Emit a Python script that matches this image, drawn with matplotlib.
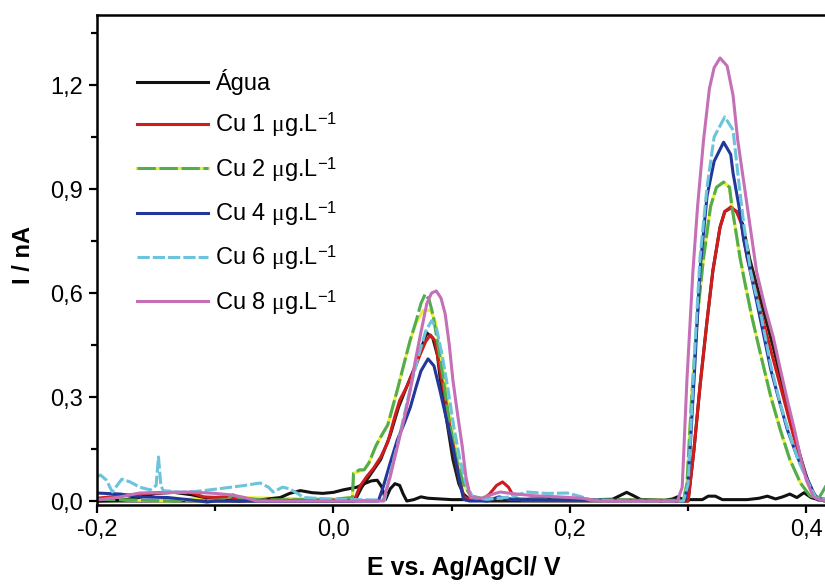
"""
Square-wave stripping voltammograms of Cu in water (Agua blank and Cu spikes).
"""
import matplotlib
matplotlib.use('Agg')
import matplotlib.pyplot as plt
from matplotlib.ticker import FuncFormatter, MultipleLocator

# ---- data (E / V, I / nA) ----
agua = [(-0.200, 0.000), (-0.180, 0.002), (-0.165, 0.010), (-0.150, 0.022), (-0.135, 0.025),
        (-0.120, 0.018), (-0.100, 0.004), (-0.080, 0.000), (-0.060, 0.004), (-0.045, 0.010),
        (-0.037, 0.022), (-0.028, 0.030), (-0.018, 0.024), (-0.009, 0.022), (0.000, 0.025),
        (0.008, 0.032), (0.014, 0.036), (0.020, 0.040), (0.026, 0.050), (0.032, 0.058),
        (0.037, 0.060), (0.041, 0.040), (0.044, 0.004), (0.048, 0.035), (0.052, 0.050),
        (0.056, 0.045), (0.059, 0.020), (0.062, 0.000), (0.068, 0.004), (0.074, 0.012),
        (0.080, 0.008), (0.090, 0.006), (0.100, 0.004), (0.110, 0.004), (0.125, 0.002),
        (0.140, 0.006), (0.160, 0.004), (0.180, 0.008), (0.200, 0.006), (0.220, 0.004),
        (0.236, 0.005), (0.242, 0.015), (0.248, 0.025), (0.254, 0.015), (0.260, 0.004),
        (0.280, 0.002), (0.287, 0.006), (0.291, 0.012), (0.296, 0.004), (0.312, 0.004),
        (0.317, 0.014), (0.323, 0.014), (0.329, 0.004), (0.350, 0.004), (0.360, 0.008),
        (0.367, 0.014), (0.374, 0.006), (0.380, 0.012), (0.386, 0.020), (0.392, 0.010),
        (0.398, 0.024), (0.404, 0.010), (0.410, 0.004), (0.420, 0.002)]

cu1 = [(-0.200, 0.008), (-0.180, 0.015), (-0.160, 0.022), (-0.140, 0.025), (-0.120, 0.024),
       (-0.110, 0.012), (-0.100, 0.010), (-0.090, 0.012), (-0.080, 0.005), (-0.060, 0.002),
       (-0.040, 0.002), (0.000, 0.003), (0.018, 0.005), (0.022, 0.040), (0.028, 0.070),
       (0.034, 0.095), (0.040, 0.127), (0.046, 0.170), (0.052, 0.245), (0.056, 0.290),
       (0.062, 0.330), (0.068, 0.375), (0.073, 0.420), (0.078, 0.460), (0.082, 0.479),
       (0.086, 0.462), (0.090, 0.380), (0.095, 0.290), (0.099, 0.200), (0.103, 0.130),
       (0.106, 0.080), (0.110, 0.012), (0.115, 0.004), (0.125, 0.002), (0.132, 0.020),
       (0.138, 0.045), (0.143, 0.055), (0.148, 0.040), (0.153, 0.010), (0.160, 0.002),
       (0.200, 0.002), (0.250, 0.002), (0.298, 0.000), (0.300, 0.000), (0.305, 0.150),
       (0.310, 0.330), (0.316, 0.520), (0.321, 0.666), (0.327, 0.790), (0.331, 0.835),
       (0.336, 0.848), (0.341, 0.835), (0.345, 0.800), (0.350, 0.700), (0.356, 0.620),
       (0.361, 0.550), (0.368, 0.460), (0.375, 0.370), (0.382, 0.280), (0.389, 0.190),
       (0.396, 0.110), (0.403, 0.040), (0.408, 0.008), (0.420, 0.004)]

cu2 = [(-0.200, 0.005), (-0.170, 0.003), (-0.140, 0.000), (-0.100, 0.002), (-0.090, 0.004),
       (-0.085, 0.018), (-0.080, 0.010), (-0.060, 0.003), (-0.030, 0.004), (0.000, 0.005),
       (0.016, 0.010), (0.017, 0.080), (0.022, 0.090), (0.026, 0.090), (0.030, 0.110),
       (0.036, 0.160), (0.040, 0.185), (0.046, 0.220), (0.050, 0.270), (0.054, 0.320),
       (0.060, 0.400), (0.065, 0.465), (0.070, 0.520), (0.074, 0.570), (0.0776, 0.597),
       (0.081, 0.580), (0.084, 0.540), (0.088, 0.460), (0.093, 0.350), (0.098, 0.230),
       (0.104, 0.120), (0.110, 0.050), (0.116, 0.015), (0.125, 0.008), (0.160, 0.006),
       (0.200, 0.005), (0.250, 0.003), (0.296, 0.002), (0.299, 0.050), (0.303, 0.300),
       (0.308, 0.540), (0.313, 0.700), (0.319, 0.850), (0.324, 0.905), (0.330, 0.920),
       (0.335, 0.905), (0.337, 0.850), (0.344, 0.700), (0.348, 0.630), (0.354, 0.530),
       (0.361, 0.427), (0.370, 0.300), (0.378, 0.205), (0.386, 0.120), (0.395, 0.052),
       (0.403, 0.015), (0.410, 0.005), (0.416, 0.040), (0.420, 0.070)]

cu4 = [(-0.200, 0.023), (-0.180, 0.020), (-0.164, 0.012), (-0.140, 0.010), (-0.120, 0.003),
       (-0.107, -0.003), (-0.100, 0.000), (-0.050, 0.000), (0.000, 0.000), (0.038, 0.000),
       (0.042, 0.040), (0.048, 0.110), (0.054, 0.176), (0.060, 0.225), (0.065, 0.270),
       (0.070, 0.330), (0.074, 0.375), (0.080, 0.410), (0.085, 0.390), (0.090, 0.320),
       (0.096, 0.230), (0.101, 0.156), (0.106, 0.070), (0.110, 0.005), (0.115, 0.000),
       (0.130, 0.000), (0.140, 0.012), (0.150, 0.004), (0.200, 0.003), (0.250, 0.002),
       (0.297, 0.000), (0.300, 0.050), (0.305, 0.350), (0.310, 0.666), (0.316, 0.880),
       (0.322, 0.980), (0.330, 1.035), (0.336, 1.000), (0.338, 0.946), (0.343, 0.850),
       (0.347, 0.753), (0.354, 0.640), (0.362, 0.510), (0.370, 0.378), (0.377, 0.290),
       (0.384, 0.205), (0.392, 0.130), (0.400, 0.070), (0.406, 0.025), (0.410, 0.003),
       (0.420, 0.000)]

cu6 = [(-0.200, 0.070), (-0.197, 0.075), (-0.192, 0.060), (-0.187, 0.026), (-0.183, 0.045),
       (-0.179, 0.063), (-0.172, 0.055), (-0.164, 0.040), (-0.155, 0.032), (-0.150, 0.045),
       (-0.148, 0.127), (-0.146, 0.045), (-0.144, 0.030), (-0.130, 0.026), (-0.121, 0.026),
       (-0.105, 0.032), (-0.093, 0.037), (-0.075, 0.045), (-0.062, 0.052), (-0.055, 0.040),
       (-0.051, 0.026), (-0.043, 0.040), (-0.037, 0.035), (-0.031, 0.023), (-0.025, 0.010),
       (0.000, 0.005), (0.040, 0.003), (0.043, 0.000), (0.048, 0.080), (0.054, 0.160),
       (0.060, 0.250), (0.066, 0.340), (0.072, 0.420), (0.078, 0.490), (0.083, 0.520),
       (0.087, 0.500), (0.092, 0.420), (0.097, 0.320), (0.102, 0.210), (0.107, 0.120),
       (0.112, 0.050), (0.118, 0.010), (0.130, 0.005), (0.150, 0.012), (0.164, 0.026),
       (0.180, 0.022), (0.198, 0.023), (0.210, 0.012), (0.217, 0.003), (0.250, 0.000),
       (0.296, 0.000), (0.300, 0.050), (0.305, 0.400), (0.310, 0.700), (0.316, 0.906),
       (0.322, 1.050), (0.331, 1.108), (0.338, 1.070), (0.342, 0.946), (0.347, 0.800),
       (0.353, 0.660), (0.362, 0.530), (0.370, 0.390), (0.378, 0.280), (0.386, 0.190),
       (0.394, 0.110), (0.402, 0.050), (0.408, 0.010), (0.420, 0.000)]

cu8 = [(-0.200, 0.003), (-0.180, 0.012), (-0.164, 0.023), (-0.140, 0.024), (-0.121, 0.026),
       (-0.100, 0.022), (-0.085, 0.017), (-0.075, 0.010), (-0.065, 0.000), (0.000, 0.000),
       (0.042, 0.000), (0.048, 0.070), (0.054, 0.156), (0.060, 0.240), (0.065, 0.320),
       (0.069, 0.400), (0.073, 0.470), (0.079, 0.570), (0.083, 0.600), (0.087, 0.606),
       (0.091, 0.585), (0.0945, 0.540), (0.098, 0.450), (0.101, 0.350), (0.105, 0.250),
       (0.109, 0.156), (0.112, 0.070), (0.116, 0.010), (0.125, 0.008), (0.135, 0.020),
       (0.141, 0.026), (0.150, 0.022), (0.170, 0.015), (0.190, 0.012), (0.210, 0.008),
       (0.226, 0.000), (0.291, 0.000), (0.295, 0.040), (0.299, 0.350), (0.304, 0.660),
       (0.308, 0.850), (0.313, 1.040), (0.318, 1.190), (0.322, 1.250), (0.327, 1.278),
       (0.333, 1.255), (0.338, 1.170), (0.342, 1.040), (0.350, 0.850), (0.358, 0.660),
       (0.365, 0.560), (0.372, 0.473), (0.378, 0.380), (0.384, 0.290), (0.390, 0.205),
       (0.395, 0.127), (0.400, 0.060), (0.406, 0.012), (0.412, 0.003), (0.420, 0.000)]

# unlabelled traces that show through in the reference (yellow under Cu 2, dark trace)
yellow = [(-0.200, 0.005), (-0.140, 0.000), (-0.085, 0.018), (-0.080, 0.010), (0.000, 0.005),
          (0.016, 0.010), (0.017, 0.080), (0.026, 0.090), (0.030, 0.110), (0.036, 0.160),
          (0.040, 0.185), (0.046, 0.220), (0.050, 0.270), (0.054, 0.320), (0.060, 0.400),
          (0.065, 0.465), (0.070, 0.515), (0.076, 0.550), (0.082, 0.550), (0.086, 0.520),
          (0.090, 0.440), (0.095, 0.330), (0.100, 0.220), (0.105, 0.120), (0.110, 0.050),
          (0.116, 0.015), (0.125, 0.008), (0.200, 0.005), (0.296, 0.002), (0.299, 0.050),
          (0.303, 0.300), (0.308, 0.540), (0.313, 0.700), (0.319, 0.850), (0.324, 0.905),
          (0.330, 0.920), (0.335, 0.905), (0.337, 0.850), (0.344, 0.700), (0.348, 0.630),
          (0.354, 0.530), (0.361, 0.427), (0.370, 0.300), (0.378, 0.205), (0.386, 0.120),
          (0.395, 0.052), (0.403, 0.015), (0.410, 0.005), (0.420, 0.005)]

dark = [(-0.200, 0.000), (0.000, 0.000), (0.018, 0.000), (0.024, 0.040), (0.032, 0.080),
        (0.040, 0.120), (0.048, 0.190), (0.055, 0.270), (0.062, 0.330), (0.068, 0.380),
        (0.073, 0.430), (0.079, 0.485), (0.084, 0.470), (0.088, 0.420), (0.090, 0.360),
        (0.0945, 0.260), (0.101, 0.120), (0.106, 0.050), (0.110, 0.020), (0.115, 0.005),
        (0.130, 0.000), (0.300, 0.000), (0.305, 0.150), (0.310, 0.330), (0.316, 0.520),
        (0.321, 0.666), (0.327, 0.790), (0.331, 0.835), (0.336, 0.845), (0.341, 0.835),
        (0.346, 0.800), (0.352, 0.700), (0.359, 0.610), (0.366, 0.520), (0.373, 0.430),
        (0.380, 0.330), (0.387, 0.235), (0.394, 0.140), (0.401, 0.060), (0.407, 0.015),
        (0.415, 0.000), (0.420, 0.000)]

labels = ['Água', 'Cu 1 $\\mu$g.L$^{-1}$', 'Cu 2 $\\mu$g.L$^{-1}$',
          'Cu 4 $\\mu$g.L$^{-1}$', 'Cu 6 $\\mu$g.L$^{-1}$', 'Cu 8 $\\mu$g.L$^{-1}$']

plt.rcParams['font.family'] = ['Liberation Sans', 'DejaVu Sans']
plt.rcParams['mathtext.fontset'] = 'custom'
plt.rcParams['mathtext.rm'] = 'Liberation Sans'
plt.rcParams['mathtext.it'] = 'Liberation Serif'
plt.rcParams['axes.unicode_minus'] = False


def xy(pts):
    return [p[0] for p in pts], [p[1] for p in pts]


fig = plt.figure(figsize=(8.25, 5.87), dpi=100)
ax = fig.add_axes([97 / 825, 1 - 505 / 587, 733 / 825, 490 / 587])

lw = 2.2
ax.plot(*xy(dark), color='#2b1d14', lw=lw)
h_y, = ax.plot(*xy(yellow), color='#eeee30', lw=lw)
h0, = ax.plot(*xy(agua), color='#111111', lw=lw)
h1, = ax.plot(*xy(cu1), color='#d01c1c', lw=lw)
h2, = ax.plot(*xy(cu2), color='#52ad52', lw=lw, ls=(0, (6, 1.2)))
h4, = ax.plot(*xy(cu4), color='#22379a', lw=lw)
h6, = ax.plot(*xy(cu6), color='#6cc3dc', lw=lw, ls=(0, (4, 1)))
h8, = ax.plot(*xy(cu8), color='#c56fb6', lw=lw)

ax.set_xlim(-0.2, 0.42)
ax.set_ylim(-0.0115, 1.402)

ax.xaxis.set_major_locator(MultipleLocator(0.2))
ax.xaxis.set_minor_locator(MultipleLocator(0.1))
ax.yaxis.set_major_locator(MultipleLocator(0.3))
ax.yaxis.set_minor_locator(MultipleLocator(0.15))
fmt = FuncFormatter(lambda v, _: f'{0.0 if abs(v) < 1e-9 else v:.1f}'.replace('.', ','))
ax.xaxis.set_major_formatter(fmt)
ax.yaxis.set_major_formatter(fmt)
ax.tick_params(which='both', direction='out', width=1.6, labelsize=17,
               top=False, right=False)
ax.tick_params(which='major', length=6, pad=4)
ax.tick_params(which='minor', length=4)
for sp in ax.spines.values():
    sp.set_linewidth(1.8)

ax.set_xlabel('E vs. Ag/AgCl/ V', fontsize=18, fontweight='bold')
ax.set_ylabel('I / nA', fontsize=17, fontweight='bold')
ax.xaxis.set_label_coords(0.5, -0.104)
ax.yaxis.set_label_coords(-0.085, 0.51)

ax.legend([h0, h1, (h_y, h2), h4, h6, h8], labels, loc='upper left',
          bbox_to_anchor=(0.055, 0.89), frameon=False, fontsize=17,
          handlelength=3.0, handletextpad=0.3, labelspacing=0.66,
          borderpad=0, borderaxespad=0)

fig.savefig('out.png', dpi=100)
